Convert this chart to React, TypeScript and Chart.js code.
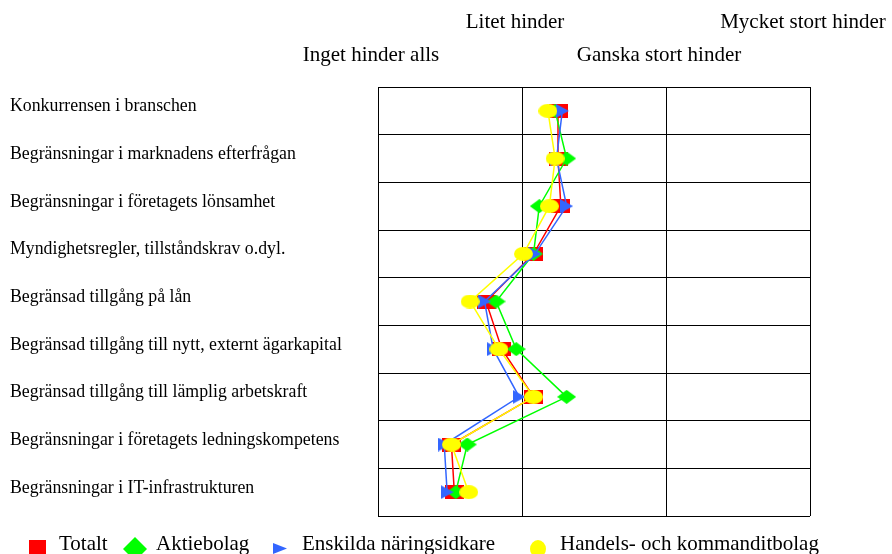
import React, { useEffect, useRef } from "react";
import { Chart, registerables } from "chart.js";

Chart.register(...registerables);

const categories = [
  "Konkurrensen i branschen",
  "Begränsningar i marknadens efterfrågan",
  "Begränsningar i företagets lönsamhet",
  "Myndighetsregler, tillståndskrav o.dyl.",
  "Begränsad tillgång på lån",
  "Begränsad tillgång till nytt, externt ägarkapital",
  "Begränsad tillgång till lämplig arbetskraft",
  "Begränsningar i företagets ledningskompetens",
  "Begränsningar i IT-infrastrukturen",
];

const scaleLabels = ["Inget hinder alls", "Litet hinder", "Ganska stort hinder", "Mycket stort hinder"];

const totalt = [2.25, 2.25, 2.27, 2.08, 1.75, 1.86, 2.08, 1.51, 1.53];
const aktiebolag = [2.23, 2.31, 2.12, 2.08, 1.82, 1.96, 2.31, 1.62, 1.54];
const enskilda = [2.28, 2.24, 2.31, 2.09, 1.74, 1.8, 1.98, 1.46, 1.48];
const handels = [2.18, 2.23, 2.19, 2.01, 1.64, 1.84, 2.08, 1.51, 1.63];

const seriesNames = ["Totalt", "Aktiebolag", "Enskilda näringsidkare", "Handels- och kommanditbolag"];

const RED = "#ff0000";
const GREEN = "#00ff00";
const BLUE = "#3366ff";
const YELLOW = "#ffff00";

function makeMarker(kind: string, color: string): HTMLCanvasElement {
  const c = document.createElement("canvas");
  let w = 19, h = 14;
  if (kind === "tri") { w = 13; h = 14; }
  c.width = w; c.height = h;
  const ctx = c.getContext("2d")!;
  ctx.fillStyle = color;
  ctx.beginPath();
  if (kind === "rect") {
    ctx.rect(0, 0, w, h);
  } else if (kind === "diamond") {
    ctx.moveTo(0, h / 2); ctx.lineTo(w / 2, 0); ctx.lineTo(w, h / 2); ctx.lineTo(w / 2, h); ctx.closePath();
  } else if (kind === "tri") {
    ctx.moveTo(0, 0); ctx.lineTo(w, h / 2); ctx.lineTo(0, h); ctx.closePath();
  } else {
    ctx.ellipse(w / 2, h / 2, w / 2, h / 2, 0, 0, Math.PI * 2);
  }
  ctx.fill();
  return c;
}

const FONT = "'Liberation Serif', 'Times New Roman', serif";

export default function App() {
  const ref = useRef<HTMLCanvasElement | null>(null);

  useEffect(() => {
    if (!ref.current) return;
    const mk = (label: string, data: number[], color: string, kind: string, order: number) => ({
      label,
      data,
      borderColor: color,
      backgroundColor: color,
      borderWidth: 1.5,
      pointStyle: makeMarker(kind, color),
      pointRadius: 7,
      order,
    });
    const chart = new Chart(ref.current, {
      type: "line",
      data: {
        labels: categories,
        datasets: [
          mk(seriesNames[0], totalt, RED, "rect", 4),
          mk(seriesNames[1], aktiebolag, GREEN, "diamond", 3),
          mk(seriesNames[2], enskilda, BLUE, "tri", 2),
          mk(seriesNames[3], handels, YELLOW, "ellipse", 1),
        ] as any,
      },
      options: {
        indexAxis: "y",
        animation: false,
        responsive: false,
        devicePixelRatio: 1,
        layout: { padding: { left: 10, right: 82, top: 0, bottom: 38 } },
        plugins: { legend: { display: false }, tooltip: { enabled: false } },
        scales: {
          x: {
            type: "linear",
            position: "top",
            min: 1,
            max: 4,
            ticks: {
              stepSize: 1,
              autoSkip: false,
              maxRotation: 0,
              padding: 15,
              labelOffset: -7,
              color: "#000",
              font: { family: FONT, size: 21, lineHeight: 1.57 },
              callback: (v: any) => {
                const i = Math.round(Number(v)) - 1;
                const t = scaleLabels[i] ?? "";
                return i % 2 === 0 ? ["", t] : [t, ""];
              },
            },
            grid: { color: "#000", lineWidth: 1, drawTicks: false },
            border: { display: true, color: "#000", width: 1 },
            afterFit: (s: any) => {
              s.height = 87;
              s.paddingLeft = 0;
              s.paddingRight = 0;
            },
          },
          y: {
            type: "category",
            offset: true,
            ticks: {
              crossAlign: "far",
              padding: 0,
              labelOffset: -4,
              color: "#000",
              autoSkip: false,
              font: { family: FONT, size: 17.8 },
            },
            grid: { color: "#000", lineWidth: 1, drawTicks: false, offset: true },
            border: { display: true, color: "#000", width: 1 },
            afterFit: (s: any) => {
              s.width = 368;
              s.paddingTop = 0;
              s.paddingBottom = 0;
            },
          },
        },
      } as any,
    });
    return () => chart.destroy();
  }, []);

  const textStyle = (left: number): React.CSSProperties => ({
    position: "absolute",
    left,
    top: 533,
    fontFamily: FONT,
    fontSize: 21,
    lineHeight: "21px",
    whiteSpace: "nowrap",
    color: "#000",
  });

  return (
    <div style={{ position: "fixed", left: 0, top: 0, width: 892, height: 554, background: "#fff", overflow: "hidden" }}>
      <canvas ref={ref} width={892} height={554} style={{ width: 892, height: 554, display: "block" }} />
      <svg style={{ position: "absolute", left: 0, top: 530 }} width={892} height={30}>
        <rect x={29} y={10} width={17} height={15} fill={RED} />
        <polygon points="123,19 135,7 147,19 135,31" fill={GREEN} />
        <polygon points="273,13 287,18.5 273,24" fill={BLUE} />
        <ellipse cx={538} cy={19} rx={8} ry={9} fill={YELLOW} />
      </svg>
      <div style={textStyle(59)}>{seriesNames[0]}</div>
      <div style={textStyle(156)}>{seriesNames[1]}</div>
      <div style={textStyle(302)}>{seriesNames[2]}</div>
      <div style={textStyle(560)}>{seriesNames[3]}</div>
    </div>
  );
}
